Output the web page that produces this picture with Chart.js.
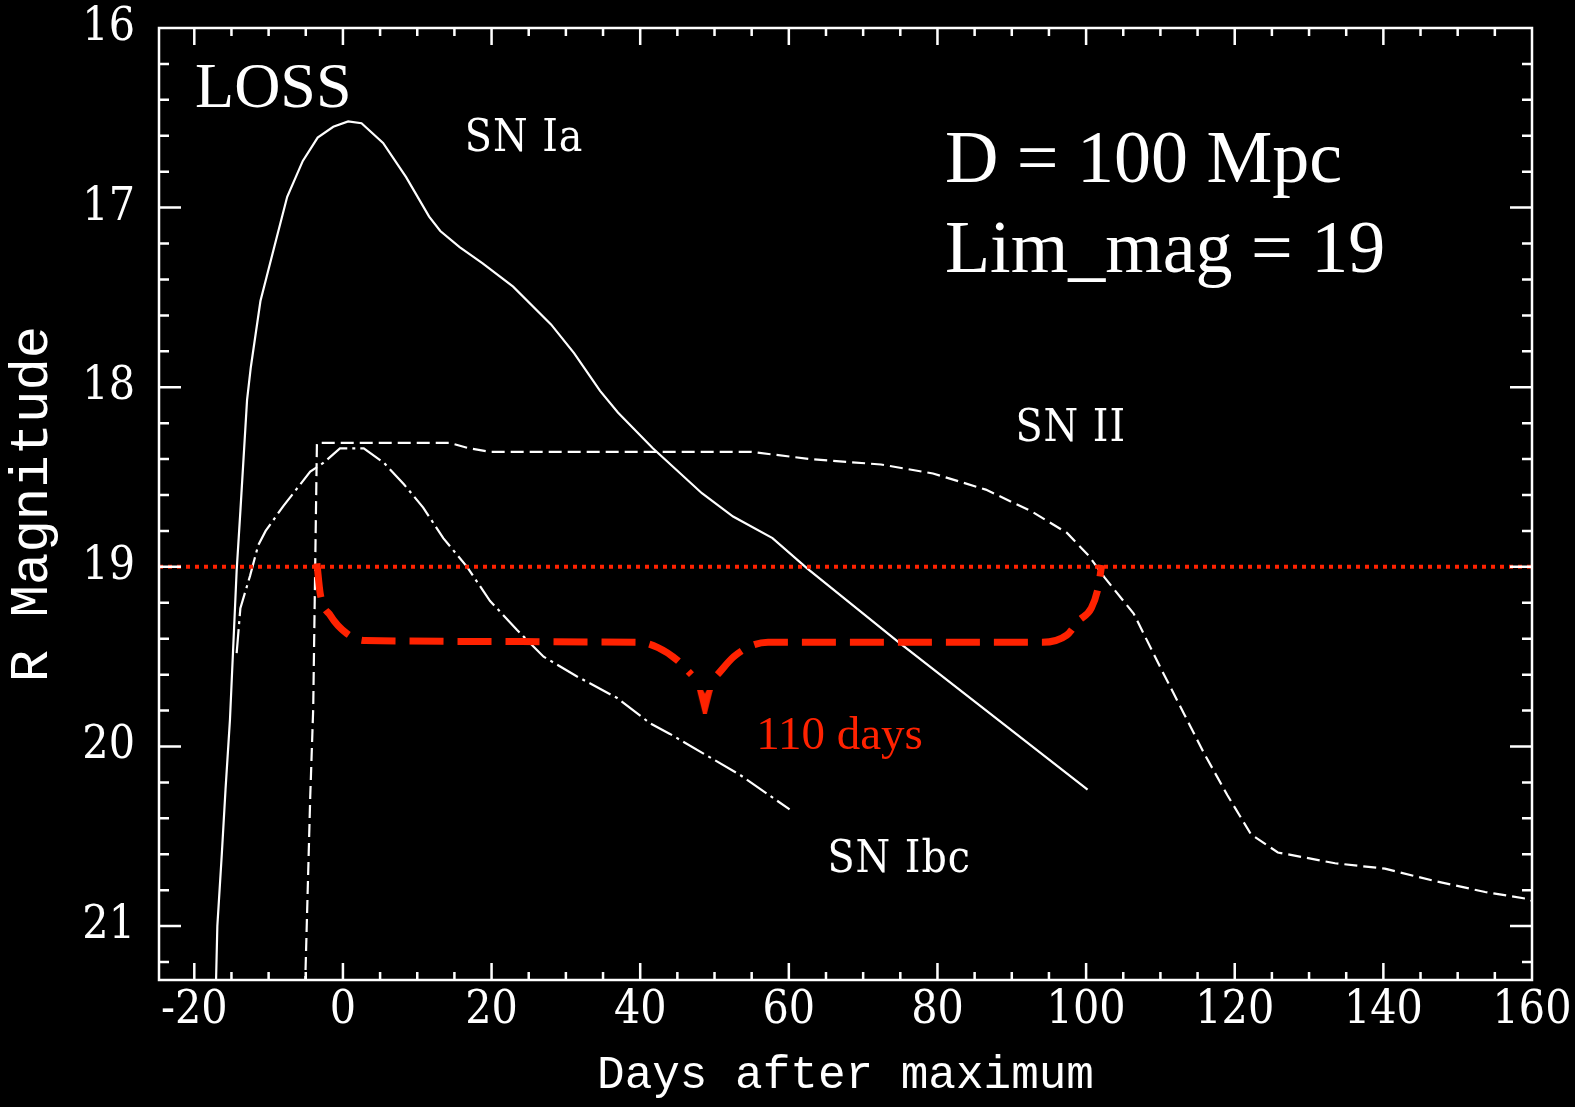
<!DOCTYPE html>
<html>
<head>
<meta charset="utf-8">
<script src="https://cdn.jsdelivr.net/npm/chart.js@4/dist/chart.umd.min.js"></script>
<style>
  html, body { margin: 0; padding: 0; background: #000; }
  canvas { display: block; }
</style>
</head>
<body>
<canvas id="c" width="1575" height="1107"></canvas>
<script>
// ---------------- DATA ----------------
const xTickLabels = [-20, 0, 20, 40, 60, 80, 100, 120, 140, 160];
const yTickLabels = [16, 17, 18, 19, 20, 21];

// SN Ia light curve (days after maximum, R magnitude)
const iaDays = [-17.1, -16.9, -16.3, -15.8, -15.2, -14.3, -13.8, -12.9, -12.4, -11.1, -10.3, -9.0, -7.5, -5.4, -3.4, -1.3, 0.7, 2.5, 5.4, 8.5, 11.6, 13.1, 15.7, 18.8, 22.9, 28.0, 31.1, 34.6, 37.0, 41.7, 48.3, 52.5, 57.8, 62.5, 74.8, 100.2];
const iaMag  = [21.35, 21.0, 20.6, 20.24, 19.85, 19.02, 18.69, 18.07, 17.89, 17.52, 17.39, 17.18, 16.94, 16.74, 16.61, 16.55, 16.52, 16.53, 16.64, 16.83, 17.05, 17.13, 17.22, 17.31, 17.44, 17.65, 17.81, 18.02, 18.14, 18.34, 18.59, 18.72, 18.84, 19.01, 19.42, 20.24];

// SN II light curve
const iiDays = [-5.1, -4.4, -4.0, -3.5, 14.4, 17.0, 19.8, 55.0, 62.9, 72.4, 79.4, 86.5, 92.6, 97.4, 100.4, 102.5, 106.4, 110.0, 113.2, 115.9, 119.0, 122.2, 125.8, 133.5, 140.2, 147.0, 153.7, 159.6, 160.0];
const iiMag  = [21.35, 20.28, 19.79, 18.31, 18.31, 18.34, 18.36, 18.36, 18.40, 18.43, 18.48, 18.57, 18.69, 18.81, 18.94, 19.06, 19.26, 19.56, 19.82, 20.04, 20.27, 20.49, 20.59, 20.65, 20.68, 20.75, 20.81, 20.85, 20.86];

// SN Ibc light curve
const ibcDays = [-14.3, -13.8, -12.5, -11.4, -10.4, -8.0, -4.4, -2.6, -0.4, 2.8, 5.5, 8.2, 10.8, 13.5, 16.7, 19.8, 23.4, 27.0, 31.5, 36.9, 41.3, 44.0, 53.5, 60.1];
const ibcMag  = [19.48, 19.23, 19.05, 18.88, 18.80, 18.66, 18.47, 18.42, 18.34, 18.34, 18.42, 18.54, 18.67, 18.84, 19.00, 19.19, 19.35, 19.50, 19.61, 19.73, 19.87, 19.93, 20.16, 20.35];

// Limiting magnitude line
const limDays = [-24.75, 160];
const limMag  = [19, 19];

// "110 days" brace (left and right halves) and its arrow tip
const braceLeftDays  = [-3.5, -3.05, -1.7, 0.5, 3.0, 39.8, 42.4, 45.0, 46.9];
const braceLeftMag   = [18.98, 19.15, 19.27, 19.37, 19.41, 19.42, 19.45, 19.52, 19.60];
const braceRightDays = [50.4, 52.6, 54.9, 57.2, 94.1, 97.4, 99.0, 100.7, 101.6, 102.1];
const braceRightMag  = [19.60, 19.50, 19.44, 19.42, 19.42, 19.38, 19.30, 19.23, 19.12, 18.99];
const arrowDay = [48.7];
const arrowMag = [19.75];

// ---------------- STYLE ----------------
const WHITE = '#ffffff';
const RED = '#ff2200';
const NARROW = '"DejaVu Serif Condensed", "DejaVu Serif", serif';
const SERIF = '"Liberation Serif", "Times New Roman", serif';
const MONO = '"Liberation Mono", "DejaVu Sans Mono", monospace';

const annotations = [
  { text: 'LOSS',         x: -19.9, y: 16.44,  font: '64px ' + SERIF,  color: WHITE },
  { text: 'SN Ia',        x: 16.4,  y: 16.685, font: '44px ' + NARROW, color: WHITE, spacing: '1px' },
  { text: 'D = 100 Mpc',  x: 81.0,  y: 16.86,  font: '74px ' + SERIF,  color: WHITE },
  { text: 'Lim_mag = 19', x: 81.0,  y: 17.36,  font: '74px ' + SERIF,  color: WHITE },
  { text: 'SN II',        x: 90.5,  y: 18.30,  font: '44px ' + NARROW, color: WHITE, spacing: '1px' },
  { text: 'SN Ibc',       x: 65.2,  y: 20.70,  font: '44px ' + NARROW, color: WHITE, spacing: '1px' },
  { text: '110 days',     x: 55.6,  y: 20.016, font: '47px ' + SERIF,  color: RED }
];

const xMinorStep = 5;
const yMinorStep = 0.2;

const pts = (xs, ys) => xs.map((x, i) => ({ x: x, y: ys[i] }));

// arrow head image
const arrowImg = document.createElement('canvas');
arrowImg.width = 16; arrowImg.height = 24;
(function () {
  const g = arrowImg.getContext('2d');
  g.fillStyle = RED;
  g.beginPath();
  g.moveTo(0, 0); g.lineTo(6, 0); g.lineTo(8, 4); g.lineTo(10, 0); g.lineTo(16, 0);
  g.lineTo(10, 24); g.lineTo(6, 24); g.closePath(); g.fill();
})();

const framePlugin = {
  id: 'frame',
  afterDraw(chart) {
    const { ctx, chartArea: a, scales: { x, y } } = chart;
    ctx.save();
    ctx.strokeStyle = WHITE;
    ctx.lineWidth = 2.5;
    ctx.strokeRect(a.left, a.top, a.right - a.left, a.bottom - a.top);
    // x ticks (bottom and top, pointing inward)
    ctx.beginPath();
    for (let k = Math.ceil(x.min / xMinorStep); k * xMinorStep <= x.max; k++) {
      const v = k * xMinorStep;
      const px = x.getPixelForValue(v);
      if (Math.abs(px - a.left) < 2 || Math.abs(px - a.right) < 2) continue;
      const len = xTickLabels.includes(v) ? 17 : 8;
      ctx.moveTo(px, a.bottom); ctx.lineTo(px, a.bottom - len);
      ctx.moveTo(px, a.top); ctx.lineTo(px, a.top + len);
    }
    // y ticks (left and right, pointing inward)
    const ylo = Math.min(y.min, y.max), yhi = Math.max(y.min, y.max);
    for (let k = Math.ceil(ylo / yMinorStep - 1e-6); k * yMinorStep <= yhi + 1e-9; k++) {
      const v = Math.round(k * yMinorStep * 1000) / 1000;
      const py = y.getPixelForValue(v);
      if (Math.abs(py - a.top) < 2 || Math.abs(py - a.bottom) < 2) continue;
      const len = yTickLabels.includes(v) ? 22 : 10;
      ctx.moveTo(a.left, py); ctx.lineTo(a.left + len, py);
      ctx.moveTo(a.right, py); ctx.lineTo(a.right - len, py);
    }
    ctx.stroke();
    // text annotations
    ctx.textBaseline = 'alphabetic';
    ctx.textAlign = 'left';
    annotations.forEach(t => {
      ctx.font = t.font;
      ctx.fillStyle = t.color;
      ctx.letterSpacing = t.spacing || '0px';
      ctx.fillText(t.text, x.getPixelForValue(t.x), y.getPixelForValue(t.y));
    });
    ctx.restore();
  }
};

new Chart(document.getElementById('c').getContext('2d'), {
  type: 'line',
  data: {
    datasets: [
      { label: 'Lim_mag', data: pts(limDays, limMag), borderColor: RED, borderWidth: 4, borderDash: [4, 5], pointRadius: 0, order: 0 },
      { label: 'brace left', data: pts(braceLeftDays, braceLeftMag), borderColor: RED, borderWidth: 7, borderDash: [34, 14], cubicInterpolationMode: 'monotone', pointRadius: 0, order: 0 },
      { label: 'brace right', data: pts(braceRightDays, braceRightMag), borderColor: RED, borderWidth: 7, borderDash: [34, 14], cubicInterpolationMode: 'monotone', pointRadius: 0, order: 0 },
      { label: 'arrow', data: pts(arrowDay, arrowMag), showLine: false, pointStyle: arrowImg, pointRadius: 10, order: 0 },
      { label: 'SN Ia', data: pts(iaDays, iaMag), borderColor: WHITE, borderWidth: 2.2, pointRadius: 0, order: 1 },
      { label: 'SN II', data: pts(iiDays, iiMag), borderColor: WHITE, borderWidth: 2.2, borderDash: [13, 6], pointRadius: 0, order: 1 },
      { label: 'SN Ibc', data: pts(ibcDays, ibcMag), borderColor: WHITE, borderWidth: 2.2, borderDash: [24, 5, 3, 5], pointRadius: 0, order: 1 }
    ]
  },
  options: {
    responsive: false,
    animation: false,
    events: [],
    layout: { padding: { top: 28, right: 43, left: 0, bottom: 0 } },
    plugins: { legend: { display: false }, tooltip: { enabled: false } },
    scales: {
      x: {
        type: 'linear', min: -24.75, max: 160,
        afterFit(s) { s.height = 127; s.paddingLeft = 0; s.paddingRight = 0; },
        afterBuildTicks(s) { s.ticks = xTickLabels.map(v => ({ value: v })); },
        grid: { display: false, drawTicks: false },
        border: { display: false },
        ticks: { color: WHITE, padding: 3, maxRotation: 0, autoSkip: false, font: { family: NARROW, size: 46 } },
        title: { display: true, text: 'Days after maximum', color: WHITE, font: { family: MONO, size: 46 }, padding: { top: 0, bottom: 4 } }
      },
      y: {
        type: 'linear', reverse: true, min: 16, max: 21.3,
        afterFit(s) { s.width = 159; s.paddingTop = 0; s.paddingBottom = 0; },
        afterBuildTicks(s) { s.ticks = yTickLabels.map(v => ({ value: v })); },
        grid: { display: false, drawTicks: false },
        border: { display: false },
        ticks: { color: WHITE, padding: 24, autoSkip: false, font: { family: NARROW, size: 46 } },
        title: { display: true, text: 'R Magnitude', color: WHITE, font: { family: MONO, size: 54 }, padding: { top: 0, bottom: 0 } }
      }
    }
  },
  plugins: [framePlugin]
});
</script>
</body>
</html>
